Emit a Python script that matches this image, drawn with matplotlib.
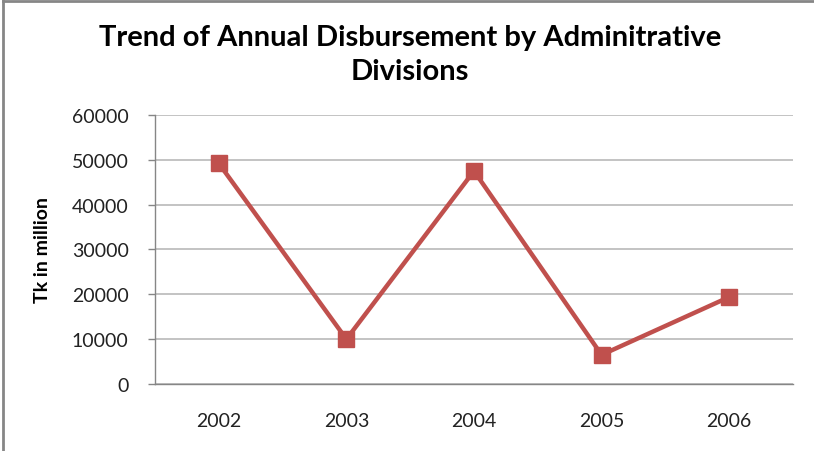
import matplotlib
matplotlib.use("Agg")
import matplotlib.pyplot as plt
from matplotlib.lines import Line2D

years = ["2002", "2003", "2004", "2005", "2006"]
disbursement = [49200, 10000, 47500, 6500, 19400]
y_ticks = [0, 10000, 20000, 30000, 40000, 50000, 60000]

plt.rcParams["font.family"] = ["Lato", "DejaVu Sans"]

fig = plt.figure(figsize=(8.14, 4.52), dpi=100)
ax = fig.add_axes([0.1904, 0.1482, 0.7838, 0.5952])

x = list(range(len(years)))
ax.plot(x, disbursement, color="#C0504D", linewidth=3.2,
        marker="s", markersize=11.5, markerfacecolor="#C0504D",
        markeredgecolor="#C0504D", solid_joinstyle="miter")

ax.set_xlim(-0.5, len(years) - 0.5)
ax.set_ylim(0, 60000)
ax.set_yticks(y_ticks)
ax.set_yticklabels([str(v) for v in y_ticks], fontsize=14, color="#222222")
ax.set_xticks(x)
ax.set_xticklabels(years, fontsize=14, color="#222222")
ax.tick_params(axis="x", length=0, pad=20)
ax.tick_params(axis="y", length=5, width=1, color="#868686", pad=14)

ax.grid(axis="y", color="#BEBEBE", linewidth=1.3)
ax.set_axisbelow(True)
for side in ("top", "right"):
    ax.spines[side].set_visible(False)
for side in ("left", "bottom"):
    ax.spines[side].set_color("#868686")
    ax.spines[side].set_linewidth(1.0)

ax.set_ylabel("Tk in million", fontsize=14, fontweight="bold", labelpad=15)

fig.text(0.504, 0.915, "Trend of Annual Disbursement by Adminitrative",
         ha="center", va="center", fontsize=21, fontweight="bold")
fig.text(0.504, 0.840, "Divisions",
         ha="center", va="center", fontsize=21, fontweight="bold")

# chart frame along the top and left edges
fig.add_artist(Line2D([0.004, 0.004], [0.0, 0.996], transform=fig.transFigure,
                      color="#868686", linewidth=2))
fig.add_artist(Line2D([0.004, 1.0], [0.996, 0.996], transform=fig.transFigure,
                      color="#868686", linewidth=2))

fig.savefig("out.png", dpi=100)
